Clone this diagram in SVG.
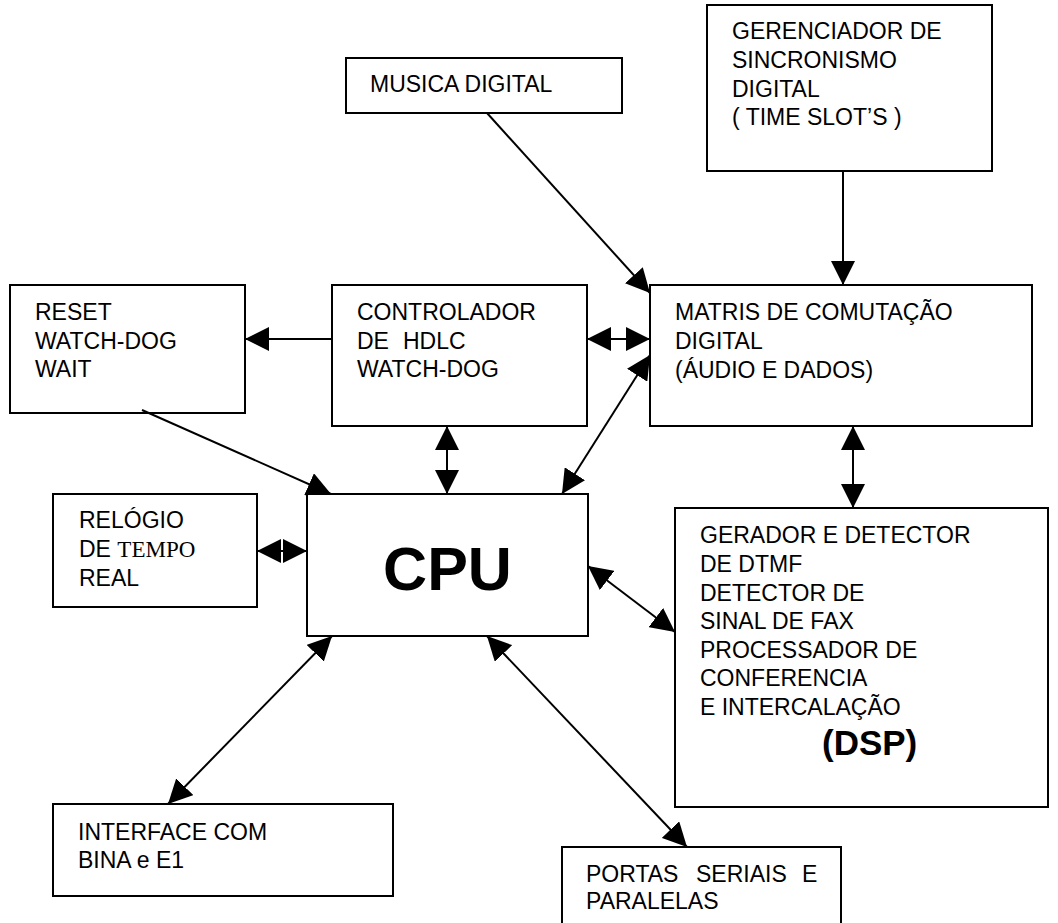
<svg xmlns="http://www.w3.org/2000/svg" width="1058" height="923" viewBox="0 0 1058 923">
<defs>
<marker id="ah" markerUnits="userSpaceOnUse" markerWidth="24" markerHeight="24" refX="23" refY="11.5" orient="auto-start-reverse" viewBox="0 0 23 23">
<path d="M0,0 L23,11.5 L0,23 z" fill="#000"/>
</marker>
</defs>
<style>
.box{fill:#fff;stroke:#000;stroke-width:2}
.t{font-family:"Liberation Sans",Arial,sans-serif;font-size:23px;fill:#000}
.s{font-family:"Liberation Serif","Times New Roman",serif}
.big{font-family:"Liberation Sans",Arial,sans-serif;font-weight:bold;fill:#000}
.c{stroke:#000;stroke-width:2;fill:none}
.one{marker-end:url(#ah)}
.two{marker-start:url(#ah);marker-end:url(#ah)}
</style>
<rect width="1058" height="923" fill="#fff"/>
<g id="musica">
<rect class="box" x="346" y="58" width="276" height="55"/>
<text class="t" x="370" y="92">MUSICA DIGITAL</text>
</g>
<g id="gerenciador">
<rect class="box" x="707" y="5" width="285" height="166"/>
<text class="t" x="732" y="39">GERENCIADOR DE</text>
<text class="t" x="732" y="68">SINCRONISMO</text>
<text class="t" x="732" y="97">DIGITAL</text>
<text class="t" x="732" y="125">( TIME SLOT’S )</text>
</g>
<g id="reset">
<rect class="box" x="10" y="285" width="235" height="128"/>
<text class="t" x="35" y="320">RESET</text>
<text class="t" x="35" y="349">WATCH-DOG</text>
<text class="t" x="35" y="377">WAIT</text>
</g>
<g id="controlador">
<rect class="box" x="332" y="285" width="255" height="141"/>
<text class="t" x="357" y="320">CONTROLADOR</text>
<text class="t" x="357" y="349">DE</text>
<text class="t" x="403" y="349">HDLC</text>
<text class="t" x="357" y="377">WATCH-DOG</text>
</g>
<g id="matris">
<rect class="box" x="650" y="285" width="382" height="141"/>
<text class="t" x="675" y="320">MATRIS DE COMUTAÇÃO</text>
<text class="t" x="675" y="349">DIGITAL</text>
<text class="t" x="675" y="378">(ÁUDIO E DADOS)</text>
</g>
<g id="relogio">
<rect class="box" x="53" y="494" width="204" height="113"/>
<text class="t" x="79" y="528">RELÓGIO</text>
<text class="t" x="79" y="557">DE <tspan class="s">TEMPO</tspan></text>
<text class="t" x="79" y="586">REAL</text>
</g>
<g id="cpu">
<rect class="box" x="307" y="494" width="281" height="142"/>
<text class="big" x="447.5" y="590" font-size="61" text-anchor="middle">CPU</text>
</g>
<g id="dsp">
<rect class="box" x="675" y="508" width="373" height="299"/>
<text class="t" x="700" y="543">GERADOR E DETECTOR</text>
<text class="t" x="700" y="572">DE DTMF</text>
<text class="t" x="700" y="601">DETECTOR DE</text>
<text class="t" x="700" y="629">SINAL DE FAX</text>
<text class="t" x="700" y="658">PROCESSADOR DE</text>
<text class="t" x="700" y="686">CONFERENCIA</text>
<text class="t" x="700" y="715">E INTERCALAÇÃO</text>
<text class="big" x="822" y="755" font-size="35">(DSP)</text>
</g>
<g id="interface">
<rect class="box" x="53" y="804" width="340" height="92"/>
<text class="t" x="78" y="840">INTERFACE COM</text>
<text class="t" x="78" y="868">BINA e E1</text>
</g>
<g id="portas">
<rect class="box" x="562" y="847" width="279" height="90"/>
<text class="t" x="586" y="882">PORTAS</text>
<text class="t" x="696" y="882">SERIAIS</text>
<text class="t" x="802" y="882">E</text>
<text class="t" x="586" y="909">PARALELAS</text>
</g>
<g id="connectors">
<line class="c one" x1="332" y1="339" x2="245" y2="339"/>
<line class="c one" x1="142" y1="410" x2="331" y2="494"/>
<line class="c one" x1="487" y1="113" x2="650" y2="293"/>
<line class="c one" x1="843" y1="171" x2="843" y2="285"/>
<line class="c two" x1="587" y1="339" x2="650" y2="339"/>
<line class="c two" x1="447" y1="426" x2="447" y2="494"/>
<line class="c two" x1="650" y1="355" x2="562" y2="494"/>
<line class="c two" x1="853" y1="426" x2="853" y2="508"/>
<line class="c two" x1="257" y1="551" x2="307" y2="551"/>
<line class="c two" x1="588" y1="566" x2="675" y2="632"/>
<line class="c two" x1="332" y1="636" x2="168" y2="804"/>
<line class="c two" x1="487" y1="636" x2="687" y2="847"/>
</g>
</svg>
